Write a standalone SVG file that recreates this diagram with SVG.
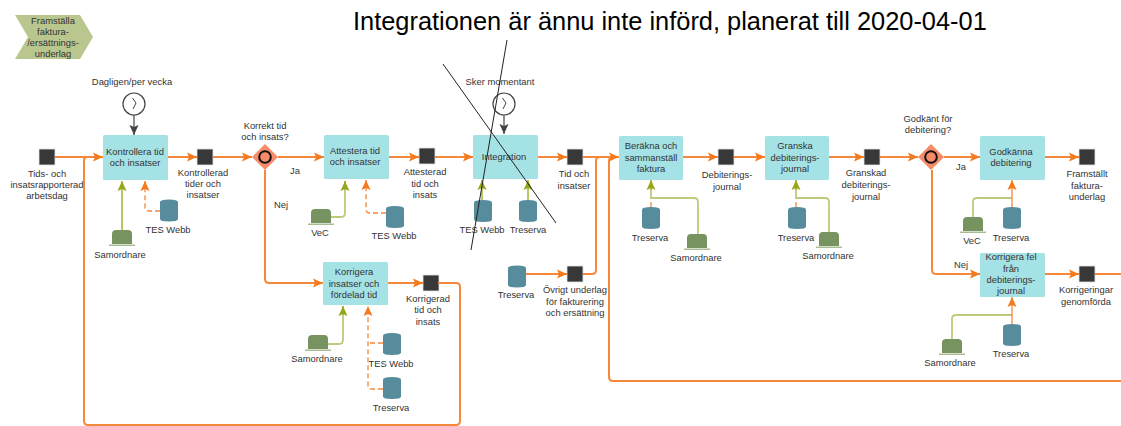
<svg xmlns="http://www.w3.org/2000/svg" width="1121" height="426" viewBox="0 0 1121 426">
<style>
text{font-family:"Liberation Sans",Arial,sans-serif;font-size:9.4px;fill:#333;text-anchor:middle}
.title{font-size:25.4px;fill:#000;text-anchor:start}
.task{fill:#a5e2e6}
.sq{fill:#383838;stroke:#e4e4e4;stroke-width:.8}
.db{fill:#578c9d}
.hat{fill:#77935f}
.brim{fill:#a9bd94}
.chev{fill:#b9c78f}
.gw{fill:#f58b68}
.ring{fill:#f58b68;stroke:#111;stroke-width:2}
.clock{fill:#fff;stroke:#444;stroke-width:1.2}
.hand{fill:none;stroke:#444;stroke-width:1}
.c{fill:none;stroke:#f5883a;stroke-width:2}
.a{marker-end:url(#oa)}
.d{fill:none;stroke:#f5883a;stroke-width:1.3;stroke-dasharray:5 3}
.g{fill:none;stroke:#bccb7c;stroke-width:1.8}
.gs{fill:none;stroke:#a4b432;stroke-width:1.5}
.t{fill:none;stroke:#444;stroke-width:1.2}
.s{fill:none;stroke:#222;stroke-width:1}
</style>
<defs>
<marker id="oa" markerUnits="userSpaceOnUse" markerWidth="11" markerHeight="11" refX="10" refY="5.500" orient="auto"><path d="M0 1L10 5.500L0 10L2 5.500Z" fill="#f47a1e"/></marker>
<marker id="ga" markerUnits="userSpaceOnUse" markerWidth="11" markerHeight="11" refX="10" refY="5.500" orient="auto"><path d="M0 1L10 5.500L0 10L2 5.500Z" fill="#98a61e"/></marker>
<marker id="ka" markerUnits="userSpaceOnUse" markerWidth="11" markerHeight="11" refX="10" refY="5.500" orient="auto"><path d="M0 1L10 5.500L0 10L2 5.500Z" fill="#444"/></marker>
<g id="s-db"><path class="db" d="M0 2.500Q0 0 9 0T18 2.500V19.500Q18 22 9 22T0 19.500Z"/></g>
<g id="s-hat"><path class="hat" d="M3 14V4Q3 0 7 0H19Q23 0 23 4V14Z"/><rect class="brim" x="0" y="14.500" width="26" height="1.500"/></g>
<g id="s-gw"><path class="gw" d="M0 -13L13 0L0 13L-13 0Z"/><circle class="ring" r="5.800"/></g>
<g id="s-clock"><circle class="clock" r="11"/><path class="hand" d="M-1.500 -6L2 -1L-1 5"/></g>
<rect id="s-sq" class="sq" width="16" height="16"/>
</defs>

<text class="title" x="353" y="30">Integrationen är ännu inte införd, planerat till 2020-04-01</text>

<g id="n-chevron"><path class="chev" d="M15 15H80L93 37L80 59H15L28 37Z"/><text><tspan x="53" y="23.500">Framställa</tspan><tspan x="53" y="34.500">faktura-</tspan><tspan x="53" y="46">/ersättnings-</tspan><tspan x="53" y="57">underlag</tspan></text></g>

<g id="n-tids"><use href="#s-sq" x="39" y="149"/><text><tspan x="47" y="177">Tids- och</tspan><tspan x="47" y="188">insatsrapporterad</tspan><tspan x="47" y="199">arbetsdag</tspan></text></g>
<g id="n-clock1"><use href="#s-clock" x="134" y="104"/><text x="132" y="85">Dagligen/per vecka</text></g>
<g id="n-kontrollera"><rect class="task" x="103" y="135" width="65" height="45" rx="1.500"/><text><tspan x="135" y="154.500">Kontrollera tid</tspan><tspan x="135" y="165.500">och insatser</tspan></text></g>
<g id="n-sam1"><use href="#s-hat" x="109" y="230"/><text x="120" y="258">Samordnare</text></g>
<g id="n-tes1"><use href="#s-db" x="160" y="199.500"/><text x="168" y="233">TES Webb</text></g>
<g id="n-kontrollerad"><use href="#s-sq" x="197" y="149"/><text><tspan x="203" y="175.500">Kontrollerad</tspan><tspan x="203" y="186.500">tider och</tspan><tspan x="203" y="198">insatser</tspan></text></g>
<g id="n-gw1"><use href="#s-gw" x="265" y="157"/><text><tspan x="265" y="129">Korrekt tid</tspan><tspan x="265" y="140">och insats?</tspan></text></g>

<g id="n-attestera"><rect class="task" x="324" y="135" width="65" height="44" rx="1.500"/><text><tspan x="355" y="153.500">Attestera tid</tspan><tspan x="355" y="164.500">och insatser</tspan></text></g>
<g id="n-vec1"><use href="#s-hat" x="308" y="209"/><text x="320" y="236">VeC</text></g>
<g id="n-tes2"><use href="#s-db" x="386" y="206"/><text x="394" y="239">TES Webb</text></g>
<g id="n-attesterad"><use href="#s-sq" x="419" y="148"/><text><tspan x="425" y="175">Attesterad</tspan><tspan x="425" y="186.500">tid och</tspan><tspan x="425" y="197.500">insats</tspan></text></g>

<g id="n-korrigera"><rect class="task" x="323" y="262" width="65" height="43" rx="1.500"/><text><tspan x="354" y="275">Korrigera</tspan><tspan x="354" y="286.500">insatser och</tspan><tspan x="354" y="297.500">fördelad tid</tspan></text></g>
<g id="n-sam2"><use href="#s-hat" x="305" y="335"/><text x="317" y="362">Samordnare</text></g>
<g id="n-tes3"><use href="#s-db" x="383" y="333"/><text x="391" y="367">TES Webb</text></g>
<g id="n-tre1"><use href="#s-db" x="383" y="377"/><text x="391" y="411">Treserva</text></g>
<g id="n-korrigerad"><use href="#s-sq" x="423" y="275"/><text><tspan x="428" y="302">Korrigerad</tspan><tspan x="428" y="313">tid och</tspan><tspan x="428" y="324.500">insats</tspan></text></g>

<g id="n-clock2"><use href="#s-clock" x="504" y="104"/><text x="500" y="85">Sker momentant</text></g>
<g id="n-integration"><rect class="task" x="473" y="135" width="65" height="44" rx="1.500"/><text x="504" y="160">Integration</text></g>
<g id="n-tes4"><use href="#s-db" x="474" y="200"/><text x="482" y="233">TES Webb</text></g>
<g id="n-tre2"><use href="#s-db" x="519" y="200"/><text x="528" y="233">Treserva</text></g>
<g id="n-tid"><use href="#s-sq" x="567" y="149"/><text><tspan x="574" y="177">Tid och</tspan><tspan x="574" y="188.500">insatser</tspan></text></g>
<g id="n-tre3"><use href="#s-db" x="508" y="265.500"/><text x="516" y="298">Treserva</text></g>
<g id="n-ovrigt"><use href="#s-sq" x="567" y="266"/><text><tspan x="575" y="293">Övrigt underlag</tspan><tspan x="575" y="304.500">för fakturering</tspan><tspan x="575" y="316">och ersättning</tspan></text></g>

<g id="n-berakna"><rect class="task" x="619" y="136" width="64" height="44" rx="1.500"/><text><tspan x="651" y="149">Beräkna och</tspan><tspan x="651" y="160.500">sammanställ</tspan><tspan x="651" y="172">faktura</tspan></text></g>
<g id="n-tre4"><use href="#s-db" x="642" y="207"/><text x="650" y="241">Treserva</text></g>
<g id="n-sam3"><use href="#s-hat" x="684" y="234"/><text x="696" y="261">Samordnare</text></g>
<g id="n-debitering"><use href="#s-sq" x="718" y="149"/><text><tspan x="727" y="178">Debiterings-</tspan><tspan x="727" y="189.500">journal</tspan></text></g>

<g id="n-granska"><rect class="task" x="765" y="136" width="64" height="44" rx="1.500"/><text><tspan x="795" y="149">Granska</tspan><tspan x="795" y="160.500">debiterings-</tspan><tspan x="795" y="172">journal</tspan></text></g>
<g id="n-tre5"><use href="#s-db" x="788" y="207"/><text x="796" y="241">Treserva</text></g>
<g id="n-sam4"><use href="#s-hat" x="816" y="232"/><text x="828" y="259">Samordnare</text></g>
<g id="n-granskad"><use href="#s-sq" x="864" y="149"/><text><tspan x="866" y="176">Granskad</tspan><tspan x="866" y="188">debiterings-</tspan><tspan x="866" y="199.500">journal</tspan></text></g>

<g id="n-gw2"><use href="#s-gw" x="931" y="157"/><text><tspan x="928" y="122">Godkänt för</tspan><tspan x="928" y="133">debitering?</tspan></text></g>
<g id="n-godkanna"><rect class="task" x="980" y="136" width="65" height="44" rx="1.500"/><text><tspan x="1011" y="154.500">Godkänna</tspan><tspan x="1011" y="165.500">debitering</tspan></text></g>
<g id="n-vec2"><use href="#s-hat" x="960" y="217"/><text x="972" y="244">VeC</text></g>
<g id="n-tre6"><use href="#s-db" x="1003" y="207"/><text x="1011" y="241">Treserva</text></g>
<g id="n-framstallt"><use href="#s-sq" x="1079" y="149"/><text><tspan x="1087" y="177">Framställt</tspan><tspan x="1087" y="188.500">faktura-</tspan><tspan x="1087" y="200">underlag</tspan></text></g>

<g id="n-korrigerafel"><rect class="task" x="980" y="253" width="65" height="44" rx="1.500"/><text><tspan x="1011" y="260">Korrigera fel</tspan><tspan x="1011" y="271.500">från</tspan><tspan x="1011" y="283">debiterings-</tspan><tspan x="1011" y="294">journal</tspan></text></g>
<g id="n-sam5"><use href="#s-hat" x="939" y="339"/><text x="950" y="366">Samordnare</text></g>
<g id="n-tre7"><use href="#s-db" x="1003" y="324"/><text x="1011" y="357">Treserva</text></g>
<g id="n-korrigeringar"><use href="#s-sq" x="1079" y="266"/><text><tspan x="1086" y="293">Korrigeringar</tspan><tspan x="1086" y="304.500">genomförda</tspan></text></g>

<g id="connectors">
<path class="t" d="M134 115V135" marker-end="url(#ka)"/>
<path class="t" d="M504 115V134" marker-end="url(#ka)"/>
<path class="c a" d="M55 157H103"/>
<path class="c" d="M84 157H87Q84 157 84 160V421Q84 425 88 425H456Q460 425 460 421V287Q460 283 456 283H438"/>
<path class="c a" d="M168 157H197"/>
<path class="c a" d="M213 157H252"/>
<path class="c a" d="M278 157H324"/>
<path class="c a" d="M389 157H419"/>
<path class="c a" d="M435 157H473"/>
<path class="c a" d="M265 170V279Q265 283 269 283H323"/>
<path class="c a" d="M388 283H423"/>
<path class="c a" d="M538 157H567"/>
<path class="c" d="M583 157H600"/>
<path class="c a" d="M526 274H567"/>
<path class="c" d="M583 274H592Q596 274 596 270V161Q596 157 600 157"/>
<path class="c" d="M1121 381H613Q609 381 609 377V161Q609 157 613 157H600"/>
<path class="c a" d="M600 157H619"/>
<path class="c a" d="M683 157H718"/>
<path class="c a" d="M734 157H765"/>
<path class="c a" d="M829 157H864"/>
<path class="c a" d="M880 157H918"/>
<path class="c a" d="M944 157H980"/>
<path class="c a" d="M1045 157H1079"/>
<path class="c a" d="M932 170V270Q932 274 936 274H980"/>
<path class="c a" d="M1045 274H1079"/>
<path class="c" d="M1095 274H1121"/>
<path class="gs" d="M122 230V181" marker-end="url(#ga)"/>
<path class="d" d="M160 211H149Q145 211 145 207V181" marker-end="url(#oa)"/>
<path class="g" d="M331 217H341Q345 217 345 213V181"/>
<path class="gs" d="M345 190V181" marker-end="url(#ga)"/>
<path class="d" d="M386 213H370Q366 213 366 209V180" marker-end="url(#oa)"/>
<path class="g" d="M328 344H339Q343 344 343 340V306"/>
<path class="gs" d="M343 315V306" marker-end="url(#ga)"/>
<path class="d" d="M383 389H372Q368 389 368 385V306" marker-end="url(#oa)"/>
<path class="d" d="M383 343H368"/>
<path class="gs" d="M482 200V180" marker-end="url(#ga)"/>
<path class="gs" d="M528 200V180" marker-end="url(#ga)"/>
<path class="d" d="M651 207V198"/>
<path class="g" d="M698 234V202Q698 198 694 198H651V181"/>
<path class="gs" d="M651 190V180" marker-end="url(#ga)"/>
<path class="d" d="M796 207V198"/>
<path class="g" d="M829 232V202Q829 198 825 198H796V181"/>
<path class="gs" d="M796 190V180" marker-end="url(#ga)"/>
<path class="g" d="M973 217V202Q973 198 977 198H1012"/>
<path class="d" d="M1012 207V180" style="stroke-dasharray:none" marker-end="url(#oa)"/>
<path class="g" d="M952 339V319Q952 315 956 315H1012"/>
<path class="d" d="M1012 324V297" style="stroke-dasharray:none" marker-end="url(#oa)"/>
</g>

<text x="295" y="174">Ja</text>
<text x="281" y="208">Nej</text>
<text x="961" y="170">Ja</text>
<text x="961" y="268">Nej</text>

<path class="s" d="M507 40L471 250"/>
<path class="s" d="M443 64L556 223"/>
</svg>
